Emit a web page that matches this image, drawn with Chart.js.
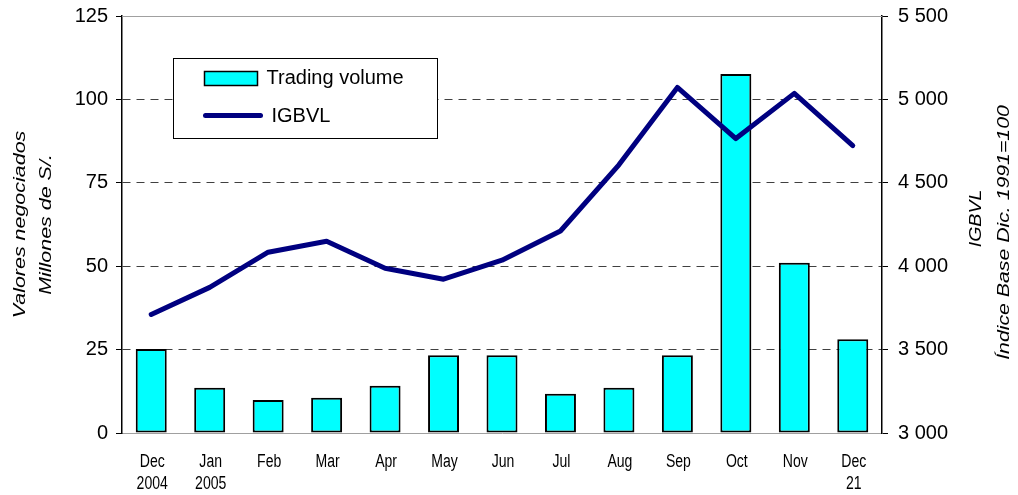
<!DOCTYPE html>
<html lang="es">
<head>
<meta charset="UTF-8">
<title>Valores negociados e IGBVL</title>
<script src="https://cdn.jsdelivr.net/npm/chart.js@4"></script>
<style>
    html, body {
        margin: 0;
        padding: 0;
        background: #ffffff;
    }
</style>
</head>
<body>
<canvas id="chart" width="1018" height="495"></canvas>
<script>
    // Data
    const months = [['Dec', '2004'], ['Jan', '2005'], 'Feb', 'Mar', 'Apr', 'May', 'Jun', 'Jul', 'Aug', 'Sep', 'Oct', 'Nov', ['Dec', '21']];
    const tradingVolume = [25.2, 13.6, 9.9, 10.6, 14.2, 23.3, 23.3, 11.8, 13.6, 23.3, 107.6, 51.0, 28.1];
    const igbvl = [3711, 3873, 4084, 4150, 3988, 3922, 4036, 4211, 4608, 5072, 4765, 5036, 4723];
    const volumeAxis = { min: 0, max: 125, step: 25 };
    const indexAxis = { min: 3000, max: 5500, step: 500 };

    const FONT = "'Liberation Sans', Arial, sans-serif";

    // Space as thousands separator: 5 500
    function spaced(v) {
        return String(v).replace(/\B(?=(\d{3})+(?!\d))/g, ' ');
    }

    // text squeezed or stretched along its own direction
    function drawText(ctx, text, x, y, font, stretch, angle) {
        ctx.save();
        ctx.translate(x, y);
        if (angle) ctx.rotate(angle);
        ctx.scale(stretch, 1);
        ctx.font = font;
        ctx.fillStyle = '#000000';
        ctx.textAlign = 'center';
        ctx.textBaseline = 'middle';
        ctx.fillText(text, 0, 0);
        ctx.restore();
    }

    // keep the plot box where the original has it
    function noLabelPadding(scale) {
        scale.paddingTop = 0;
        scale.paddingBottom = 0;
    }

    // Axis titles, month labels, top frame line and the boxed legend
    const extras = {
        id: 'extras',
        beforeDatasetsDraw(chart) {
            const { ctx, chartArea } = chart;
            ctx.save();
            ctx.strokeStyle = '#a0a0a0';
            ctx.lineWidth = 1;
            ctx.beginPath();
            ctx.moveTo(chartArea.left, chartArea.top + 0.5);
            ctx.lineTo(chartArea.right, chartArea.top + 0.5);
            ctx.stroke();
            ctx.restore();
        },
        afterDraw(chart) {
            const { ctx, chartArea } = chart;
            const midY = (chartArea.top + chartArea.bottom) / 2;
            const up = -Math.PI / 2;
            const titleFont = 'italic 16.5px ' + FONT;

            drawText(ctx, 'Valores negociados', 20, midY, titleFont, 1.3, up);
            drawText(ctx, 'Millones de S/.', 46, midY, titleFont, 1.3, up);
            drawText(ctx, 'IGBVL', 976, midY - 6, 'italic 17px ' + FONT, 1.15, up);
            drawText(ctx, 'Índice Base Dic. 1991=100', 1004, midY + 8, 'italic 17px ' + FONT, 1.25, up);

            // month labels, narrow like the original
            const xs = chart.scales.x;
            chart.data.labels.forEach((lab, i) => {
                const lines = Array.isArray(lab) ? lab : [lab];
                const x = xs.getPixelForTick(i);
                lines.forEach((t, j) => {
                    drawText(ctx, t, x + 1, chartArea.bottom + 29 + j * 22, '18px ' + FONT, 0.78, 0);
                });
            });

            // legend
            const bx = chartArea.left + 51.5, by = chartArea.top + 42.5;
            ctx.save();
            ctx.fillStyle = '#ffffff';
            ctx.fillRect(bx, by, 264, 80);
            ctx.strokeStyle = '#000000';
            ctx.lineWidth = 1;
            ctx.strokeRect(bx, by, 264, 80);

            const bar = chart.data.datasets[0];
            const line = chart.data.datasets[1];
            ctx.fillStyle = bar.backgroundColor;
            ctx.fillRect(bx + 31, by + 13, 53, 14);
            ctx.strokeStyle = bar.borderColor;
            ctx.lineWidth = 1.5;
            ctx.strokeRect(bx + 31, by + 13, 53, 14);

            ctx.strokeStyle = line.borderColor;
            ctx.lineWidth = 5;
            ctx.lineCap = 'round';
            ctx.beginPath();
            ctx.moveTo(bx + 32, by + 57);
            ctx.lineTo(bx + 87, by + 57);
            ctx.stroke();

            ctx.fillStyle = '#000000';
            ctx.font = '20px ' + FONT;
            ctx.textAlign = 'left';
            ctx.textBaseline = 'middle';
            ctx.fillText(bar.label, bx + 93, by + 20);
            ctx.fillText(line.label, bx + 98, by + 58);
            ctx.restore();
        }
    };

    new Chart(document.getElementById('chart'), {
        data: {
            labels: months,
            datasets: [{
                type: 'bar',
                label: 'Trading volume',
                data: tradingVolume,
                yAxisID: 'y',
                backgroundColor: '#00ffff',
                borderColor: '#000000',
                borderWidth: 2,
                borderSkipped: false,
                barPercentage: 0.53,
                categoryPercentage: 1,
                order: 2
            }, {
                type: 'line',
                label: 'IGBVL',
                data: igbvl,
                yAxisID: 'y1',
                borderColor: '#000080',
                borderWidth: 5,
                borderCapStyle: 'round',
                borderJoinStyle: 'round',
                pointRadius: 0,
                tension: 0,
                fill: false,
                order: 1
            }]
        },
        options: {
            responsive: false,
            animation: false,
            devicePixelRatio: 1,
            layout: { padding: { top: 16, left: 0, right: 0, bottom: 0 } },
            plugins: {
                legend: { display: false },
                tooltip: { enabled: false }
            },
            scales: {
                x: {
                    grid: { display: false, drawTicks: false },
                    border: { display: true, color: '#a0a0a0', width: 1 },
                    ticks: { display: false },
                    afterFit(scale) { scale.height = 62; }
                },
                y: {
                    position: 'left',
                    min: volumeAxis.min,
                    max: volumeAxis.max,
                    ticks: {
                        stepSize: volumeAxis.step,
                        color: '#000000',
                        padding: 8,
                        font: { family: FONT, size: 20 }
                    },
                    grid: {
                        color(c) {
                            if (!c.tick) return 'rgba(0,0,0,0)';
                            const v = c.tick.value;
                            if (v === volumeAxis.min || v === volumeAxis.max) return 'rgba(0,0,0,0)';
                            return '#404040';
                        },
                        lineWidth: 1,
                        tickLength: 6,
                        tickColor: '#000000'
                    },
                    border: { display: true, color: '#000000', width: 1.5, dash: [8, 6] },
                    afterFit(scale) {
                        scale.width = 122;
                        noLabelPadding(scale);
                    }
                },
                y1: {
                    position: 'right',
                    min: indexAxis.min,
                    max: indexAxis.max,
                    ticks: {
                        stepSize: indexAxis.step,
                        color: '#000000',
                        padding: 10,
                        font: { family: FONT, size: 20 },
                        callback: v => spaced(v)
                    },
                    grid: {
                        drawOnChartArea: false,
                        tickLength: 6,
                        tickColor: '#000000'
                    },
                    border: { display: true, color: '#000000', width: 1.5 },
                    afterFit(scale) {
                        scale.width = 136;
                        noLabelPadding(scale);
                    }
                }
            }
        },
        plugins: [extras]
    });
</script>
</body>
</html>
